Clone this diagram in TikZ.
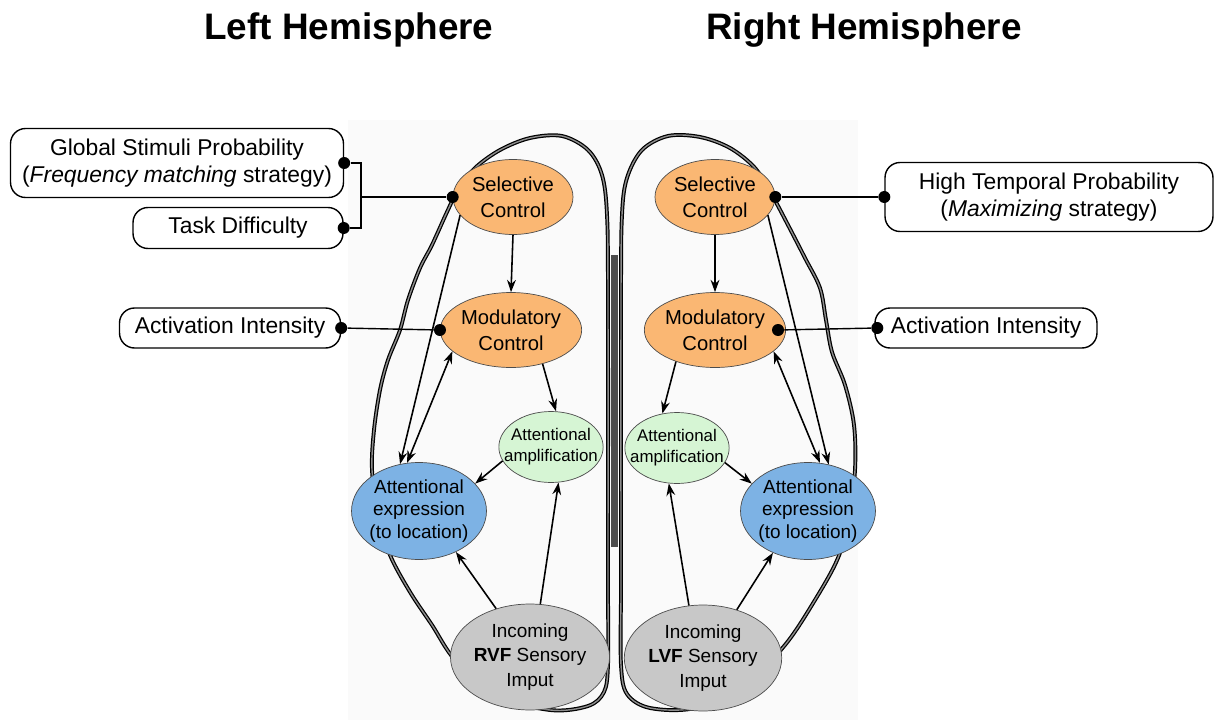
\documentclass[tikz,border=0pt]{standalone}
\usepackage{fontspec}
\setmainfont{Liberation Sans}
\usetikzlibrary{shapes.geometric,arrows.meta}

\definecolor{ctrlorange}{RGB}{250,183,115}
\definecolor{amplgreen}{RGB}{214,245,212}
\definecolor{exprblue}{RGB}{125,178,228}
\definecolor{inpgray}{RGB}{200,200,200}

\tikzset{
  hemi/.style={inner sep=0pt,font=\fontsize{21}{24}\selectfont\bfseries},
  ctrl/.style={ellipse,draw=black!70,fill=ctrlorange,inner sep=0pt,align=center,
    minimum width=2.4cm,minimum height=1.5cm,font=\fontsize{11.5}{14.7}\selectfont},
  ampl/.style={ellipse,draw=black!70,fill=amplgreen,inner xsep=-0.2cm,inner ysep=0pt,align=center,
    minimum width=2.08cm,minimum height=1.42cm,font=\fontsize{9.6}{11.9}\selectfont},
  expr/.style={ellipse,draw=black!70,fill=exprblue,inner xsep=-0.1cm,inner ysep=-0.05cm,align=center,
    minimum width=2.7cm,minimum height=1.94cm,font=\fontsize{10.8}{13}\selectfont},
  inp/.style={ellipse,draw=black!70,fill=inpgray,inner sep=0pt,align=center,
    minimum width=3.15cm,minimum height=2.12cm,font=\fontsize{10.8}{13.9}\selectfont},
  infobox/.style={draw,fill=white,rounded corners=0.3cm,line width=0.8pt,inner sep=0pt,
    align=center,font=\fontsize{13}{15.3}\selectfont},
  dot/.style={circle,fill=black,inner sep=0pt,minimum size=0.24cm},
  link/.style={line width=0.8pt},
  arr/.style={line width=0.9pt,-{Stealth[length=7pt,width=5pt]}},
  dblarr/.style={line width=0.9pt,{Stealth[length=7pt,width=5pt]}-{Stealth[length=7pt,width=5pt]}},
  brain/.style={draw=black,line width=0.7pt,double=black!45,double distance=0.8pt}
}

\begin{document}
\begin{tikzpicture}[x=0.02cm,y=-0.02cm]
   \useasboundingbox (0,0) rectangle (1215,720) ;
   %\draw[very thin,gray,step=50] (0,0) grid (1215,720) ;
   \fill[black!2] (348,120) rectangle (858,720) ;
   % left hemisphere
   \draw[brain] plot[smooth,tension=0.55] coordinates {(608,600) (608,300) (607,215)
      (602,175) (588,150) (562,136) (530,138) (500,150) (475,168) (458,190) (447,212)
      (432,245) (420,268) (408,300) (400,330) (388,360) (380,390) (374,430) (372,470)
      (378,515) (390,555) (410,592) (432,625) (455,660) (495,695) (550,710) (588,706)
      (604,692) (608,665) (608,600)} ;
   % right hemisphere
   \draw[brain] plot[smooth,tension=0.55] coordinates {(621,600) (621,300) (622,215)
      (627,178) (642,150) (668,136) (700,137) (730,148) (755,168) (772,195) (788,225)
      (805,258) (820,288) (826,320) (832,352) (845,385) (854,425) (855,470) (849,518)
      (838,558) (815,600) (785,645) (745,685) (695,708) (650,708) (627,694) (621,665)
      (621,600)} ;
   \fill[black!70] (611,255) rectangle (618,547) ;

   \node[hemi] (lhemi) at (349,30) {Left Hemisphere} ;
   \node[hemi] (rhemi) at (864,30) {Right Hemisphere} ;

   % left side
   \node[ctrl] (selL) at (513,197) {Selective\\Control} ;
   \node[ctrl] (modL) at (511,330) {Modulatory\\Control} ;
   \node[ampl] (ampL) at (551,447) {Attentional\\amplification} ;
   \node[expr] (exprL) at (419,511) {Attentional\\expression\\(to location)} ;
   \node[inp] (inL) at (530,657) {Incoming\\\textbf{RVF} Sensory\\Imput} ;

   % right side
   \node[ctrl] (selR) at (715,197) {Selective\\Control} ;
   \node[ctrl] (modR) at (715,330) {Modulatory\\Control} ;
   \node[ampl] (ampR) at (677,448) {Attentional\\amplification} ;
   \node[expr] (exprR) at (808,511) {Attentional\\expression\\(to location)} ;
   \node[inp] (inR) at (703,658) {Incoming\\\textbf{LVF} Sensory\\Imput} ;

   % factors
   \node[infobox,minimum width=6.66cm,minimum height=1.38cm] (glob) at (177,163)
      {Global Stimuli Probability\\(\textit{Frequency matching} strategy)} ;
   \node[infobox,minimum width=4.2cm,minimum height=0.82cm] (task) at (238,228) {Task Difficulty} ;
   \node[infobox,minimum width=4.42cm,minimum height=0.8cm] (actL) at (230,328) {Activation Intensity} ;
   \node[infobox,minimum width=6.56cm,minimum height=1.38cm] (htp) at (1049,197)
      {High Temporal Probability\\(\textit{Maximizing} strategy)} ;
   \node[infobox,minimum width=4.44cm,minimum height=0.8cm] (actR) at (986,328) {Activation Intensity} ;

   \coordinate (jct) at (361,197) ;
   \node[dot] (dglob) at (glob.east) {} ;
   \node[dot] (dtask) at (task.east) {} ;
   \node[dot] (dselL) at (selL.west) {} ;
   \node[dot] (dactL) at (actL.east) {} ;
   \node[dot] (dmodL) at (modL.west) {} ;
   \node[dot] (dselR) at (selR.east) {} ;
   \node[dot] (dhtp) at (htp.west) {} ;
   \node[dot] (dmodR) at ([xshift=-0.16cm]modR.east) {} ;
   \node[dot] (dactR) at ([xshift=0.06cm]actR.west) {} ;

   \draw[link] (dglob) -| (jct) ;
   \draw[link] (dtask) -| (jct) ;
   \draw[link] (jct) -- (dselL) ;
   \draw[link] (dactL) -- (dmodL) ;
   \draw[link] (dselR) -- (dhtp) ;
   \draw[link] (dmodR) -- (dactR) ;

   % left arrows
   \draw[arr] (selL.south) -- (modL.north) ;
   \draw[arr] (selL.199) -- (exprL.112) ;
   \draw[dblarr] (modL.200) -- (exprL.104) ;
   \draw[arr] (modL.313) -- (ampL.82) ;
   \draw[arr] (ampL.196) -- (exprL.26) ;
   \draw[arr] (inL.125) -- (exprL.312) ;
   \draw[arr] (inL.79) -- (ampL.282) ;

   % right arrows
   \draw[arr] (selR.south) -- (modR.north) ;
   \draw[arr] (selR.341) -- (exprR.66) ;
   \draw[dblarr] (modR.340) -- (exprR.76) ;
   \draw[arr] (modR.219) -- (ampR.113) ;
   \draw[arr] (ampR.343) -- (exprR.154) ;
   \draw[arr] (inR.105) -- (ampR.257) ;
   \draw[arr] (inR.55) -- (exprR.230) ;
\end{tikzpicture}
\end{document}
